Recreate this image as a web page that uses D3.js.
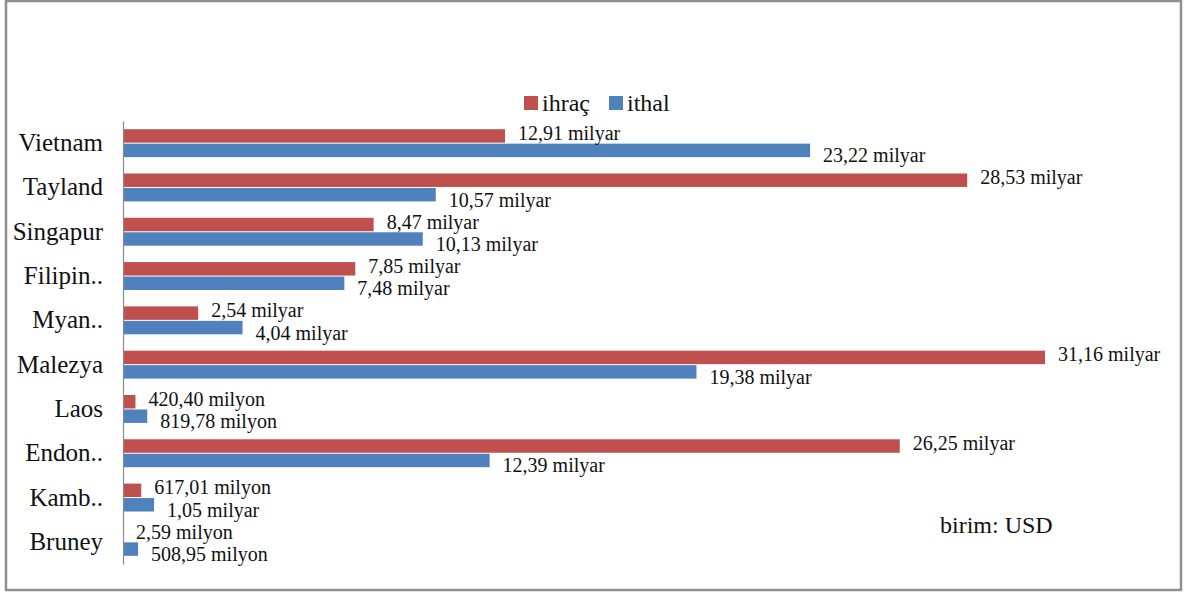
<!DOCTYPE html>
<html>
<head>
<meta charset="utf-8">
<script src="https://cdn.jsdelivr.net/npm/d3@7"></script>
<style>
  html, body { margin: 0; padding: 0; background: #fff; }
  svg text { font-family: 'Liberation Serif', 'Times New Roman', Times, 'DejaVu Serif', serif; }
</style>
</head>
<body>
<svg id="chart"></svg>
<script>
'use strict';

// ── Data (values in milyar USD) ───────────────────────────
const countries = ['Vietnam', 'Tayland', 'Singapur', 'Filipin..', 'Myan..',
                   'Malezya', 'Laos', 'Endon..', 'Kamb..', 'Bruney'];
const ihracValues = [12.91, 28.53, 8.47, 7.85, 2.54, 31.16, 0.42040, 26.25, 0.61701, 0.00259];
const ithalValues = [23.22, 10.57, 10.13, 7.48, 4.04, 19.38, 0.81978, 12.39, 1.05, 0.50895];
const seriesNames = ['ihraç', 'ithal'];
const COLORS = { 'ihraç': '#C0504D', 'ithal': '#4F81BD' };
const FONT = "'Liberation Serif', 'Times New Roman', Times, 'DejaVu Serif', serif";

// ── Layout ────────────────────────────────────────────────
const W = 1193, H = 594;
const svg = d3.select('#chart').attr('width', W).attr('height', H)
  .attr('font-family', FONT);

// outer frame
svg.append('rect')
  .attr('x', 6).attr('y', 1)
  .attr('width', 1175).attr('height', 589)
  .attr('fill', '#fff')
  .attr('stroke', '#8f8f8f')
  .attr('stroke-width', 2.5);

const x = d3.scaleLinear().domain([0, 35]).range([123, 123 + 35 * 29.59]);
const y = d3.scaleBand().domain(countries).range([121, 564])
  .paddingInner(0.37).paddingOuter(0.185);
const ySub = d3.scaleBand().domain(seriesNames).range([0, y.bandwidth()]).paddingInner(0.07);

const rows = countries.map((c, i) => ({ country: c, 'ihraç': ihracValues[i], 'ithal': ithalValues[i] }));

function fmt(v) {
  if (v >= 1) return d3.format('.2f')(v).replace('.', ',') + ' milyar';
  return d3.format('.2f')(v * 1000).replace('.', ',') + ' milyon';
}

// ── Bars ──────────────────────────────────────────────────
const groups = svg.append('g').selectAll('g')
  .data(rows).join('g')
  .attr('transform', d => `translate(0,${y(d.country)})`);

groups.selectAll('rect')
  .data(d => seriesNames.map(s => ({ s, v: d[s] })))
  .join('rect')
  .attr('x', x(0))
  .attr('y', d => ySub(d.s))
  .attr('width', d => Math.max(x(d.v) - x(0), 1))
  .attr('height', ySub.bandwidth())
  .attr('fill', d => COLORS[d.s]);

// data labels: red slightly above, blue slightly below
groups.selectAll('text')
  .data(d => seriesNames.map(s => ({ s, v: d[s] })))
  .join('text')
  .attr('x', d => x(d.v) + 13)
  .attr('y', d => ySub(d.s) + ySub.bandwidth() / 2 + (d.s === 'ihraç' ? -3 : 5))
  .attr('dy', '0.35em')
  .attr('font-size', 20)
  .attr('fill', '#111')
  .text(d => fmt(d.v));

// ── Category axis ─────────────────────────────────────────
const yAxis = svg.append('g')
  .attr('transform', `translate(${x(0)},0)`)
  .call(d3.axisLeft(y).tickSize(0).tickPadding(20))
  .attr('font-family', FONT);
yAxis.select('.domain').attr('stroke', '#8a8a8a').attr('stroke-width', 1.2);
yAxis.selectAll('text')
  .attr('font-size', 25)
  .attr('fill', '#111');

// ── Legend ────────────────────────────────────────────────
const legend = svg.append('g');
const legendX = [524, 609];
seriesNames.forEach((s, i) => {
  legend.append('rect')
    .attr('x', legendX[i]).attr('y', 96)
    .attr('width', 14).attr('height', 14)
    .attr('fill', COLORS[s]);
  legend.append('text')
    .attr('x', legendX[i] + 18).attr('y', 111)
    .attr('font-size', 24)
    .attr('fill', '#111')
    .text(s);
});

// unit note
svg.append('text')
  .attr('x', 940).attr('y', 533)
  .attr('font-size', 24)
  .attr('fill', '#111')
  .text('birim: USD');
</script>
</body>
</html>
